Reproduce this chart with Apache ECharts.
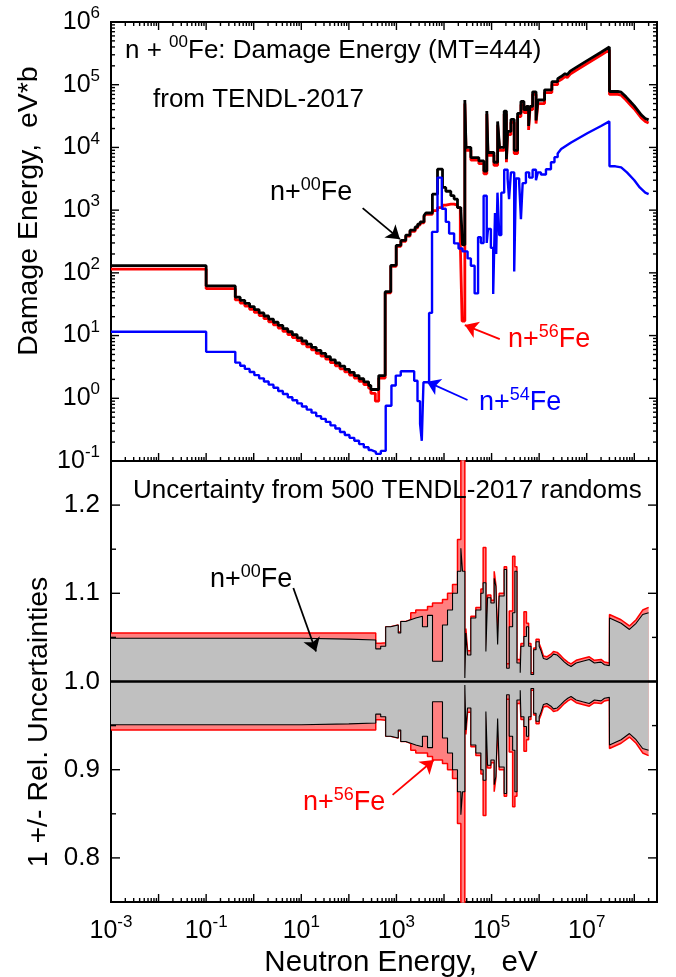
<!DOCTYPE html>
<html><head><meta charset="utf-8">
<script src="https://cdn.jsdelivr.net/npm/echarts@6/dist/echarts.min.js"></script>
<style>html,body{margin:0;padding:0;background:#fff}#c{width:676px;height:977px}</style>
</head><body><div id="c"></div>
<script>
// ---------------- DATA ----------------
// Top panel: damage energy (eV*b), histogram bin edges (eV) and bin values
const fe00E = [1e-3,0.1,0.41,0.52,0.65,0.82,1.03,1.3,1.64,2.06,2.6,3.27,4.1,5.2,6.5,8.2,10.3,13,16.4,20.6,26,32.7,41,52,65,82,103,130,164,206,260,290,424,580,760,990,1240,1570,1930,2470,2800,3150,3800,4150,5700,7300,9300,10900,13900,16300,19200,22600,24500,27400,29000,36700,54000,68900,79400,84000,112000,134000,147000,184000,205000,217000,255000,299000,352000,414000,479000,540000,600000,640000,729000,860000,940000,1.3e6,1.85e6,2.45e6];
const fe00V = [130,62,41,36.5,32.6,29,25.9,23,20.5,18.3,16.3,14.5,12.9,11.5,10.3,9.2,8.2,7.3,6.5,5.8,5.2,4.6,4.1,3.65,3.26,2.9,2.59,2.3,2.05,1.83,1.6,1.38,2.3,50,132,275,330,400,480,540,600,650,820,900,1800,4500,2300,2000,1700,1500,1100,1000,280,57000,10000,6900,6100,4200,38000,8300,5800,26000,10000,38000,6500,18000,28000,9000,35000,54000,40000,45000,22000,45000,77000,27000,57000,83000,112000];
const fe00TailE = [2.45e6,2.9e6,3.5e6,3.9e6,4.5e6,6e6,1e7,2e7,2.99e7,3.01e7,4.5e7,5.3e7,6.7e7,8.6e7,1e8,1.4e8,1.7e8,2e8];
const fe00TailV = [125000,135000,150000,145000,165000,189000,240000,330000,400000,78000,78000,76000,64000,52000,46000,33000,29000,27500];

const fe56E = [1e-3,0.1,0.41,0.52,0.65,0.82,1.03,1.3,1.64,2.06,2.6,3.27,4.1,5.2,6.5,8.2,10.3,13,16.4,20.6,26,32.7,41,52,65,82,103,130,164,206,260,290,360,424,580,760,990,1240,1570,1930,2470,2800,3150,3800,4150,5700,7300,9300,10900,13900,16300,19200,22000,24000,27400,29000,36700,54000,68900,79400,84000,112000,134000,147000,184000,205000,217000,255000,299000,352000,414000,479000,540000,600000,640000,729000,860000,940000,1.3e6,1.85e6,2.45e6];
const fe56V = [115,56,37,33,29.5,26.3,23.4,20.8,18.6,16.6,14.8,13.2,11.7,10.4,9.3,8.3,7.4,6.6,5.9,5.2,4.7,4.2,3.7,3.3,2.95,2.63,2.35,2.1,1.87,1.66,1.45,1.2,0.9,2.1,48,127,265,318,385,460,520,580,630,790,860,980,1100,1200,1250,1250,1200,1100,300,17,50000,9000,6300,5500,3800,34000,7500,5200,23000,9000,34000,5800,16000,25000,8000,31000,48000,36000,40000,19000,40000,70000,24000,50000,75000,100000];
const fe56TailV = [112000,121000,135000,130000,148000,170000,216000,297000,360000,70000,70000,68000,57000,46000,41000,29500,26000,24500];

const fe54E = [1e-3,0.1,0.41,0.52,0.65,0.82,1.03,1.3,1.64,2.06,2.6,3.27,4.1,5.2,6.5,8.2,10.3,13,16.4,20.6,26,32.7,41,52,65,82,103,130,164,206,260,290,370,470,595,785,967,1233,2360,2770,3140,3410,3700,4860,5600,7300,9000,10900,12800,16300,20200,24500,31300,36700,44000,52000,59600,68000,79000,84000,96700,108000,118000,125000,133000,145000,160000,184000,217000,233000,255000,299000,325000,381000,414000,450000,527000,617000,729000,857000,940000,1.09e6,1.39e6,1.77e6,2.1e6,2.45e6];
const fe54V = [11.5,5.5,3.7,3.3,2.94,2.62,2.34,2.08,1.85,1.65,1.47,1.31,1.17,1.04,0.93,0.83,0.74,0.66,0.59,0.52,0.47,0.42,0.37,0.33,0.29,0.26,0.234,0.21,0.186,0.166,0.15,0.14,0.13,0.145,0.76,1.6,2.3,2.7,1.9,0.9,0.39,0.21,1.8,23,450,3300,1050,650,425,295,245,220,170,130,47,370,300,1700,300,500,250,46,900,200,1900,400,1900,4400,3200,1500,4000,105,3200,2600,720,2700,4000,3300,4400,3000,4000,3700,4500,5800,7000];
const fe54TailE = [2.45e6,2.9e6,4.7e6,1.05e7,2e7,2.99e7,3.01e7,4e7,5.3e7,7e7,1e8,1.3e8,1.7e8,2e8];
const fe54TailV = [8000,9400,12000,17000,22000,26000,5000,5000,4800,4000,3000,2300,1900,1800];

// Bottom panel: relative uncertainties (band is 1 +/- u)
const uncE = [1e-3,10,100,367,467,595,758,1090,1233,1571,2002,2550,3520,4500,5730,9290,11850,15100,19200,22600,24500,27400,28800,31200,36700,46700,59600,66500,75900,82200,96700,113500,123000,134000,144500,184000,207000,235000,277000,309000,341000,400000,414000,479000,540000,600000,672000,766000,860000,1.0e6,1.09e6];
const unc00 = [0.049,0.048,0.047,0.037,0.040,0.062,0.064,0.055,0.068,0.070,0.072,0.074,0.062,0.075,0.023,0.064,0.081,0.10,0.125,0.151,0.125,0.004,0.055,0.03,0.072,0.081,0.10,0.112,0.034,0.095,0.089,0.117,0.108,0.042,0.097,0.127,0.015,0.062,0.078,0.125,0.021,0.01,0.04,0.051,0.062,0.04,0.008,0.036,0.045,0.04];
const unc56 = [0.055,0.055,0.055,0.0435,0.044,0.062,0.064,0.056,0.068,0.070,0.078,0.081,0.081,0.085,0.089,0.093,0.10,0.11,0.161,0.247,0.30,0.006,0.06,0.035,0.074,0.084,0.105,0.152,0.036,0.098,0.092,0.125,0.11,0.045,0.10,0.13,0.02,0.08,0.142,0.13,0.025,0.022,0.043,0.079,0.066,0.043,0.01,0.038,0.048,0.043];
const uncTailE = [1.09e6,1.23e6,1.45e6,1.77e6,2.0e6,2.4e6,2.88e6,3.4e6,4.0e6,4.68e6,6.0e6,8.2e6,1.13e7,1.45e7,2.0e7,2.36e7,2.99e7,3.01e7,5.27e7,7.9e7,1.09e8,1.5e8,2e8];
const uncTail00 = [0.035,0.026,0.025,0.028,0.031,0.03,0.026,0.022,0.019,0.017,0.021,0.023,0.025,0.021,0.022,0.019,0.018,0.072,0.066,0.059,0.066,0.076,0.078];
const uncTail56 = [0.038,0.029,0.028,0.031,0.034,0.033,0.029,0.025,0.022,0.02,0.024,0.026,0.028,0.024,0.025,0.022,0.021,0.076,0.07,0.063,0.07,0.081,0.084];

// Axis ticks / labels
const xMajorTicks = [1e-3,1e-2,1e-1,1,10,100,1e3,1e4,1e5,1e6,1e7,1e8];
const xLabelValues = [1e-3,1e-1,10,1e3,1e5,1e7];
const yTopMajorTicks = [0.1,1,10,100,1e3,1e4,1e5,1e6];
const yBotMajorTicks = [0.8,0.9,1.0,1.1,1.2];
const yBotMinorTicks = [0.85,0.95,1.05,1.15];

// Annotation arrows (data coordinates: [from],[to])
const arrowTop00 = [[195,1076],[1183,345]];
const arrowTop56 = [[148600,8.8],[27350,14.7]];
const arrowTop54 = [[31200,0.94],[4360,1.84]];
const arrowBot00 = [[6.8,1.106],[20.4,1.034]];
const arrowBot56 = [[830,0.8715],[6110,0.911]];

// ---------------- BUILD ----------------
const FONT = '"Liberation Sans", Arial, Helvetica, sans-serif';
function histo(E, V, tE, tV) {
  const pts = [];
  const n = Math.min(E.length - 1, V.length);
  for (let i = 0; i < n; i++) { pts.push([E[i], V[i]], [E[i + 1], V[i]]); }
  if (tE) for (let j = 0; j < tE.length; j++) pts.push([tE[j], tV[j]]);
  return pts;
}
function band(pts, sign) { return pts.map(p => [p[0], 1 + sign * p[1]]); }
function minorLog(majors, lo, hi) {
  const out = [];
  majors.forEach(m => { for (let k = 2; k <= 9; k++) { const v = m * k; if (v > lo && v < hi) out.push(v); } });
  return out;
}
function arrowML(a, color) {
  return {
    silent: true, animation: false, symbol: ['none', 'arrow'], symbolSize: 13,
    label: { show: false }, emphasis: { disabled: true },
    lineStyle: { color: color, width: 1.8, type: 'solid' },
    data: [[{ coord: a[0] }, { coord: a[1] }]]
  };
}
function tickSeries(gi, axis, vals, len, sides, dummy) {
  return {
    type: 'custom', xAxisIndex: gi, yAxisIndex: gi, silent: true, z: 20, clip: false,
    data: vals.map(v => axis === 'x' ? [v, dummy] : [dummy, v]),
    renderItem: function (params, api) {
      const cs = params.coordSys;
      const p = api.coord([api.value(0), api.value(1)]);
      const st = { stroke: '#000', lineWidth: 1.4 };
      const kids = [];
      if (axis === 'x') {
        const x = p[0];
        if (sides.indexOf('b') >= 0) kids.push({ type: 'line', shape: { x1: x, y1: cs.y + cs.height, x2: x, y2: cs.y + cs.height - len }, style: st });
        if (sides.indexOf('t') >= 0) kids.push({ type: 'line', shape: { x1: x, y1: cs.y, x2: x, y2: cs.y + len }, style: st });
      } else {
        const y = p[1];
        if (sides.indexOf('l') >= 0) kids.push({ type: 'line', shape: { x1: cs.x, y1: y, x2: cs.x + len, y2: y }, style: st });
        if (sides.indexOf('r') >= 0) kids.push({ type: 'line', shape: { x1: cs.x + cs.width, y1: y, x2: cs.x + cs.width - len, y2: y }, style: st });
      }
      return { type: 'group', children: kids };
    }
  };
}
const supRich = {
  b: { fontSize: 25, fontFamily: FONT, color: '#000', lineHeight: 34 },
  s: { fontSize: 17, fontFamily: FONT, color: '#000', lineHeight: 17, verticalAlign: 'top' }
};
function expOf(v) { const l = Math.log10(v); const e = Math.round(l); return Math.abs(l - e) < 1e-6 ? e : null; }
function supFmt(v) { const e = expOf(v); if (e === null) return ''; return '{b|10}{s|' + e + '}'; }
function linFmt(v) { return Math.abs(v * 10 - Math.round(v * 10)) < 1e-6 ? v.toFixed(1) : ''; }

function txt(x, y, text, size, color) {
  return {
    type: 'text', x: x, y: y, z: 50,
    style: {
      text: text, font: size + 'px ' + FONT, fill: color, align: 'left', verticalAlign: 'middle', lineHeight: 34,
      rich: { s: { fontSize: Math.round(size * 0.65), fontFamily: FONT, fill: color, lineHeight: 17, verticalAlign: 'top' } }
    }
  };
}
function vtxt(x, y, text, size) {
  return { type: 'text', x: x, y: y, rotation: Math.PI / 2, z: 50,
    style: { text: text, font: size + 'px ' + FONT, fill: '#000', align: 'center', verticalAlign: 'middle' } };
}

const top00 = histo(fe00E, fe00V, fe00TailE, fe00TailV);
const top56 = histo(fe56E, fe56V, fe00TailE, fe56TailV);
const top54 = histo(fe54E, fe54V, fe54TailE, fe54TailV);
const u00 = histo(uncE, unc00, uncTailE, uncTail00);
const u56 = histo(uncE, unc56, uncTailE, uncTail56);

const logAxisCommon = { type: 'log', logBase: 10, axisLine: { show: false }, axisTick: { show: false }, splitLine: { show: false } };

const option = {
  animation: false,
  backgroundColor: '#fff',
  grid: [
    { left: 111, top: 22, width: 546, height: 439, show: true, borderColor: '#000', borderWidth: 2, backgroundColor: 'transparent' },
    { left: 111, top: 461, width: 546, height: 441, show: true, borderColor: '#000', borderWidth: 2, backgroundColor: 'transparent' }
  ],
  xAxis: [
    Object.assign({}, logAxisCommon, { gridIndex: 0, min: 1e-3, max: 3e8, axisLabel: { show: false } }),
    Object.assign({}, logAxisCommon, { gridIndex: 1, min: 1e-3, max: 3e8,
      axisLabel: { show: true, margin: 12, customValues: xLabelValues, formatter: supFmt, rich: supRich, showMinLabel: true, hideOverlap: false } })
  ],
  yAxis: [
    Object.assign({}, logAxisCommon, { gridIndex: 0, min: 0.1, max: 1e6, splitNumber: 7,
      axisLabel: { show: true, margin: 11, formatter: supFmt, rich: supRich, showMinLabel: true, showMaxLabel: true } }),
    { type: 'value', gridIndex: 1, min: 0.75, max: 1.25, interval: 0.05, axisLine: { show: false }, axisTick: { show: false }, splitLine: { show: false },
      axisLabel: { show: true, margin: 11, formatter: linFmt, fontSize: 26, fontFamily: FONT, color: '#000' } }
  ],
  graphic: [
    txt(125, 51, 'n + {s|00}Fe: Damage Energy (MT=444)', 26, '#000'),
    txt(153, 100, 'from TENDL-2017', 26, '#000'),
    txt(270, 193, 'n+{s|00}Fe', 27, '#000'),
    txt(508, 340, 'n+{s|56}Fe', 27, '#ff0000'),
    txt(479, 403, 'n+{s|54}Fe', 27, '#0000ff'),
    txt(133, 491, 'Uncertainty from 500 TENDL-2017 randoms', 26, '#000'),
    txt(210, 580, 'n+{s|00}Fe', 27, '#000'),
    txt(303, 803, 'n+{s|56}Fe', 27, '#ff0000'),
    vtxt(29, 211, 'Damage Energy,  eV*b', 28.5),
    vtxt(39, 722, '1 +/- Rel. Uncertainties', 28.5),
    { type: 'text', x: 401, y: 963, z: 50, style: { text: 'Neutron Energy,   eV', font: '29.5px ' + FONT, fill: '#000', align: 'center', verticalAlign: 'middle' } }
  ],
  series: [
    // top panel
    { type: 'line', xAxisIndex: 0, yAxisIndex: 0, data: top56, symbol: 'none', silent: true, z: 2,
      lineStyle: { color: '#ff0000', width: 2.8 }, markLine: arrowML(arrowTop56, '#ff0000') },
    { type: 'line', xAxisIndex: 0, yAxisIndex: 0, data: top00, symbol: 'none', silent: true, z: 3,
      lineStyle: { color: '#000000', width: 2.8 }, markLine: arrowML(arrowTop00, '#000000') },
    { type: 'line', xAxisIndex: 0, yAxisIndex: 0, data: top54, symbol: 'none', silent: true, z: 4,
      lineStyle: { color: '#0000ff', width: 2.4 }, markLine: arrowML(arrowTop54, '#0000ff') },
    // bottom panel bands
    { type: 'line', xAxisIndex: 1, yAxisIndex: 1, data: band(u56, 1), symbol: 'none', silent: true, z: 2,
      lineStyle: { color: '#ff0000', width: 1.5 }, areaStyle: { color: '#ff8080', opacity: 1, origin: 1 } },
    { type: 'line', xAxisIndex: 1, yAxisIndex: 1, data: band(u56, -1), symbol: 'none', silent: true, z: 2,
      lineStyle: { color: '#ff0000', width: 1.5 }, areaStyle: { color: '#ff8080', opacity: 1, origin: 1 },
      markLine: arrowML(arrowBot56, '#ff0000') },
    { type: 'line', xAxisIndex: 1, yAxisIndex: 1, data: band(u00, 1), symbol: 'none', silent: true, z: 3,
      lineStyle: { color: '#000000', width: 1.1 }, areaStyle: { color: '#c0c0c0', opacity: 1, origin: 1 },
      markLine: arrowML(arrowBot00, '#000000') },
    { type: 'line', xAxisIndex: 1, yAxisIndex: 1, data: band(u00, -1), symbol: 'none', silent: true, z: 4,
      lineStyle: { color: '#000000', width: 1.1 }, areaStyle: { color: '#c0c0c0', opacity: 1, origin: 1 },
      markLine: { silent: true, animation: false, symbol: ['none', 'none'], label: { show: false }, emphasis: { disabled: true },
        lineStyle: { color: '#000', width: 2.5, type: 'solid' }, data: [{ yAxis: 1 }] } },
    // ticks
    tickSeries(0, 'x', xMajorTicks, 8, 'bt', 1),
    tickSeries(0, 'x', minorLog(xMajorTicks, 1e-3, 3e8), 4, 'bt', 1),
    tickSeries(0, 'y', yTopMajorTicks, 8, 'lr', 1),
    tickSeries(0, 'y', minorLog(yTopMajorTicks, 0.1, 1e6), 4, 'lr', 1),
    tickSeries(1, 'x', xMajorTicks, 8, 'b', 1),
    tickSeries(1, 'x', minorLog(xMajorTicks, 1e-3, 3e8), 4, 'b', 1),
    tickSeries(1, 'y', yBotMajorTicks, 9, 'lr', 1),
    tickSeries(1, 'y', yBotMinorTicks, 5, 'lr', 1)
  ]
};
const chart = echarts.init(document.getElementById('c'), null, { renderer: 'canvas' });
chart.setOption(option);
</script></body></html>
